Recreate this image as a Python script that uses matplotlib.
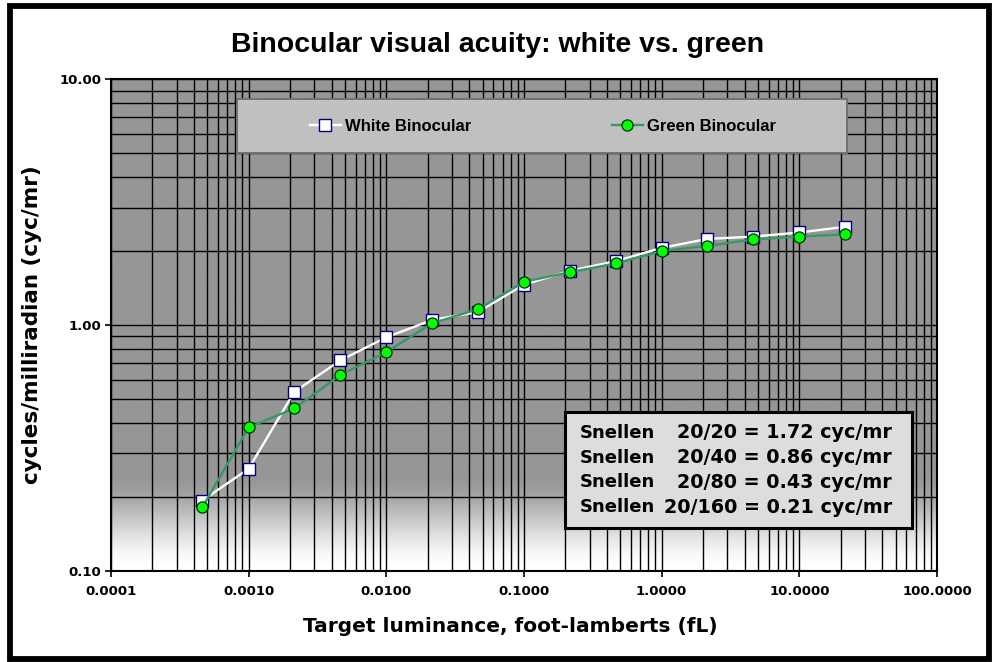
import numpy as np
import matplotlib
matplotlib.use("Agg")
import matplotlib.pyplot as plt
from matplotlib.patches import Rectangle
from matplotlib.ticker import LogLocator, FixedLocator, FuncFormatter

# luminance levels (fL) and acuity readings (cyc/mr)
luminance = [0.00046, 0.001, 0.00215, 0.00464, 0.01, 0.0215, 0.0464, 0.1,
             0.215, 0.464, 1.0, 2.15, 4.64, 10.0, 21.5]
white_binocular = [0.193, 0.260, 0.535, 0.718, 0.891, 1.048, 1.13, 1.46,
                   1.66, 1.82, 2.06, 2.24, 2.29, 2.38, 2.51]
green_binocular = [0.181, 0.383, 0.458, 0.626, 0.776, 1.016, 1.16, 1.50,
                   1.64, 1.78, 2.00, 2.10, 2.23, 2.29, 2.34]

snellen_ratio = ["20/20", "20/40", "20/80", "20/160"]
snellen_cyc = [1.72, 0.86, 0.43, 0.21]

x_ticks = [0.0001, 0.001, 0.01, 0.1, 1, 10, 100]
y_ticks = [0.1, 1, 10]

W, H = 997, 662
fig = plt.figure(figsize=(W / 100, H / 100), dpi=100)
fig.patch.set_facecolor("white")

# axes placed in pixel terms
left, right, top, bottom = 111, 937, 79.3, 570.7
ax = fig.add_axes([left / W, 1 - bottom / H, (right - left) / W, (bottom - top) / H])

ax.set_xscale("log")
ax.set_yscale("log")
ax.set_xlim(0.0001, 100)
ax.set_ylim(0.1, 10)

# plot area fill: flat grey fading to white near the bottom
gray = 150 / 255.0
fy = np.linspace(0, 1, 400)
t = np.clip((0.2 - fy) / 0.2, 0, 1)
t = t * t * (3 - 2 * t)
col = gray + (1 - gray) * t
grad = np.repeat(col[:, None], 2, axis=1)
ax.imshow(grad, cmap="gray", vmin=0, vmax=1, origin="lower", aspect="auto",
          extent=[0, 1, 0, 1], transform=ax.transAxes, zorder=0, interpolation="bilinear")

# grid
ax.xaxis.set_major_locator(FixedLocator(x_ticks))
ax.yaxis.set_major_locator(FixedLocator(y_ticks))
ax.xaxis.set_minor_locator(LogLocator(base=10, subs=np.arange(2, 10)))
ax.yaxis.set_minor_locator(LogLocator(base=10, subs=np.arange(2, 10)))
ax.grid(which="both", color="black", linewidth=1.0, zorder=1)
ax.set_axisbelow(False)
for ln in ax.get_xgridlines() + ax.get_ygridlines():
    ln.set_zorder(1)

ax.plot(luminance, white_binocular, color="white", lw=1.7, marker="s", ms=8,
        mfc="white", mec="#000080", mew=1.0, zorder=3, label="White Binocular")
ax.plot(luminance, green_binocular, color="#339966", lw=1.7, marker="o", ms=8,
        mfc="#00FF00", mec="#003300", mew=0.9, zorder=4, label="Green Binocular")

ax.xaxis.set_major_formatter(FuncFormatter(lambda v, p: "%.4f" % v))
ax.yaxis.set_major_formatter(FuncFormatter(lambda v, p: "%.2f" % v))
ax.tick_params(which="major", direction="out", length=4, width=1.2, color="black",
               labelsize=9.5)
ax.tick_params(axis="x", which="major", pad=6)
ax.tick_params(axis="y", which="major", pad=3)
ax.tick_params(which="minor", length=0)
for lab in ax.get_xticklabels() + ax.get_yticklabels():
    lab.set_fontfamily("DejaVu Sans")
    lab.set_fontweight("bold")
for s in ax.spines.values():
    s.set_color("black")
    s.set_linewidth(1.5)
    s.set_zorder(5)

ax.set_xlabel("Target luminance, foot-lamberts (fL)", fontsize=14.5, fontweight="bold",
              family="DejaVu Sans", labelpad=13)
ax.xaxis.set_label_coords((510 - left) / (right - left), -0.095)
ax.set_ylabel("cycles/milliradian (cyc/mr)", fontsize=15.5, fontweight="bold",
              family="DejaVu Sans")
ax.yaxis.set_label_coords((42 - left) / (right - left), 0.5)

fig.text(498 / W, 1 - 45 / H, "Binocular visual acuity: white vs. green", ha="center",
         va="center", fontsize=20.5, fontweight="bold", family="Liberation Sans")

# legend box across the top
lx0, lx1, ly0, ly1 = 237, 847, 99, 153
ax.add_patch(Rectangle(((lx0 - left) / (right - left), (bottom - ly1) / (bottom - top)),
                       (lx1 - lx0) / (right - left), (ly1 - ly0) / (bottom - top),
                       transform=ax.transAxes, facecolor="#C0C0C0", edgecolor="#707070",
                       linewidth=1.4, zorder=6))
leg = ax.legend(loc="center", ncol=2, frameon=False,
                bbox_to_anchor=((543 - left) / (right - left), (bottom - 126) / (bottom - top)),
                prop={"family": "Liberation Sans", "weight": "bold", "size": 12},
                handlelength=1.9, handletextpad=0.25, columnspacing=8.4,
                borderaxespad=0, borderpad=0)
leg.set_zorder(7)

# Snellen equivalence box
bx0, bx1, by0, by1 = 565, 912, 412, 527.5
box = Rectangle((bx0 / W, 1 - by1 / H), (bx1 - bx0) / W, (by1 - by0) / H,
                transform=fig.transFigure, facecolor="#DDDDDD", edgecolor="black",
                linewidth=2.2, zorder=7)
fig.patches.append(box)
for i, (r, c) in enumerate(zip(snellen_ratio, snellen_cyc)):
    yy = 1 - (433 + i * 24.7) / H
    fig.text(580 / W, yy, "Snellen", ha="left", va="center", fontsize=13,
             fontweight="bold", family="DejaVu Sans", zorder=8)
    fig.text(892 / W, yy, "%s = %.2f cyc/mr" % (r, c), ha="right", va="center",
             fontsize=13.8, fontweight="bold", family="DejaVu Sans", zorder=8)

# outer chart border
fig.patches.append(Rectangle((10 / W, 1 - 659 / H), 979 / W, 653.5 / H,
                             transform=fig.transFigure, fill=False, edgecolor="black",
                             linewidth=4.2, zorder=10))

fig.savefig("out.png", dpi=100)
